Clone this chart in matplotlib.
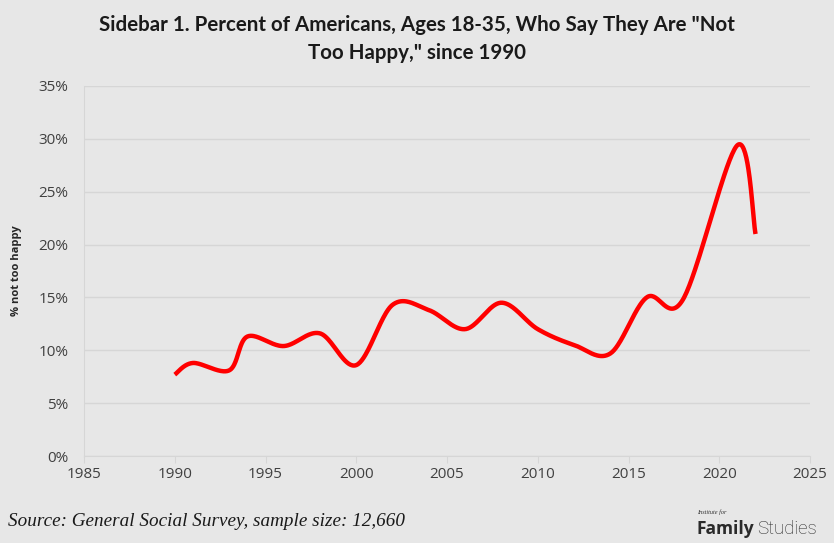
import numpy as np
import matplotlib
matplotlib.use("Agg")
import matplotlib.pyplot as plt
from matplotlib.ticker import FuncFormatter

years = [1990, 1991, 1993, 1994, 1996, 1998, 2000, 2002, 2004, 2006, 2008,
         2010, 2012, 2014, 2016, 2018, 2021, 2022]
pct_not_happy = [7.7, 8.8, 8.1, 11.3, 10.4, 11.6, 8.6, 14.3, 13.8, 12.0, 14.5,
                 12.0, 10.5, 9.7, 15.0, 14.8, 29.4, 21.0]
x_ticks = [1985, 1990, 1995, 2000, 2005, 2010, 2015, 2020, 2025]
y_ticks = [0, 5, 10, 15, 20, 25, 30, 35]

BG = "#e7e7e7"
fig = plt.figure(figsize=(8.34, 5.43), dpi=100, facecolor=BG)
ax = fig.add_axes([84/834, 1-456/543, (810-84)/834, (456-86)/543])
ax.set_facecolor(BG)
ax.set_xlim(1985, 2025)
ax.set_ylim(0, 35)


def excel_smooth(xs, ys, ax, n=40):
    # Bezier smoothing in display space (like spreadsheet smoothed lines)
    pts = ax.transData.transform(np.column_stack([xs, ys]))
    P = np.vstack([pts[0], pts, pts[-1]])
    out = []
    for i in range(1, len(P) - 2):
        p0, p1 = P[i], P[i+1]
        c1 = p0 + (P[i+1] - P[i-1]) / 6.0
        c2 = p1 - (P[i+2] - P[i]) / 6.0
        t = np.linspace(0, 1, n)[:, None]
        seg = ((1-t)**3)*p0 + 3*((1-t)**2)*t*c1 + 3*(1-t)*t**2*c2 + t**3*p1
        out.append(seg if i == 1 else seg[1:])
    out = np.vstack(out)
    return ax.transData.inverted().transform(out)

sm = excel_smooth(years, pct_not_happy, ax)
ax.plot(sm[:, 0], sm[:, 1], color="#ff0000", lw=3.2, solid_capstyle="butt", zorder=3)

ax.set_xticks(x_ticks)
ax.set_yticks(y_ticks)
ax.yaxis.set_major_formatter(FuncFormatter(lambda v, p: f"{int(v)}%"))
ax.grid(axis="y", color="#d6d6d6", lw=1)
ax.set_axisbelow(True)
for s in ["top", "right"]:
    ax.spines[s].set_visible(False)
ax.spines["left"].set_color("#d6d6d6")
ax.spines["bottom"].set_color("#d6d6d6")
ax.tick_params(axis="x", length=5, color="#d6d6d6", labelcolor="#404040",
               labelsize=11, pad=3)
ax.tick_params(axis="y", length=0, labelcolor="#404040", labelsize=11, pad=11)
for lab in ax.get_xticklabels() + ax.get_yticklabels():
    lab.set_fontfamily("Open Sans")

fig.text(17/834, 1-271/543, "% not too happy", rotation=90, ha="center",
         va="center", fontsize=8, fontweight="bold", family="Open Sans",
         color="#262626")

fig.text(0.5, 1-25/543, 'Sidebar 1. Percent of Americans, Ages 18-35, Who Say They Are "Not',
         ha="center", va="center", fontsize=14.8, fontweight="bold", family="Lato",
         color="#1a1a1a")
fig.text(0.5, 1-53/543, 'Too Happy," since 1990',
         ha="center", va="center", fontsize=14.8, fontweight="bold", family="Lato",
         color="#1a1a1a")

fig.text(8/834, 1-522/543, "Source: General Social Survey, sample size: 12,660",
         ha="left", va="center", fontsize=13.8, style="italic",
         family="Liberation Serif", color="#1a1a1a")

fig.text(697/834, 1-512/543, "Institute for", ha="left", va="center",
         fontsize=4.5, style="italic", family="Liberation Serif", color="#333333")
fig.text(697/834, 1-529/543, "Family", ha="left", va="center",
         fontsize=12.5, fontweight="bold", family="Open Sans", color="#2a2a2a")
fig.text(757/834, 1-529/543, "Studies", ha="left", va="center",
         fontsize=13.5, fontweight="light", family="Roboto", color="#2a2a2a")

fig.savefig("out.png", dpi=100, facecolor=BG)
